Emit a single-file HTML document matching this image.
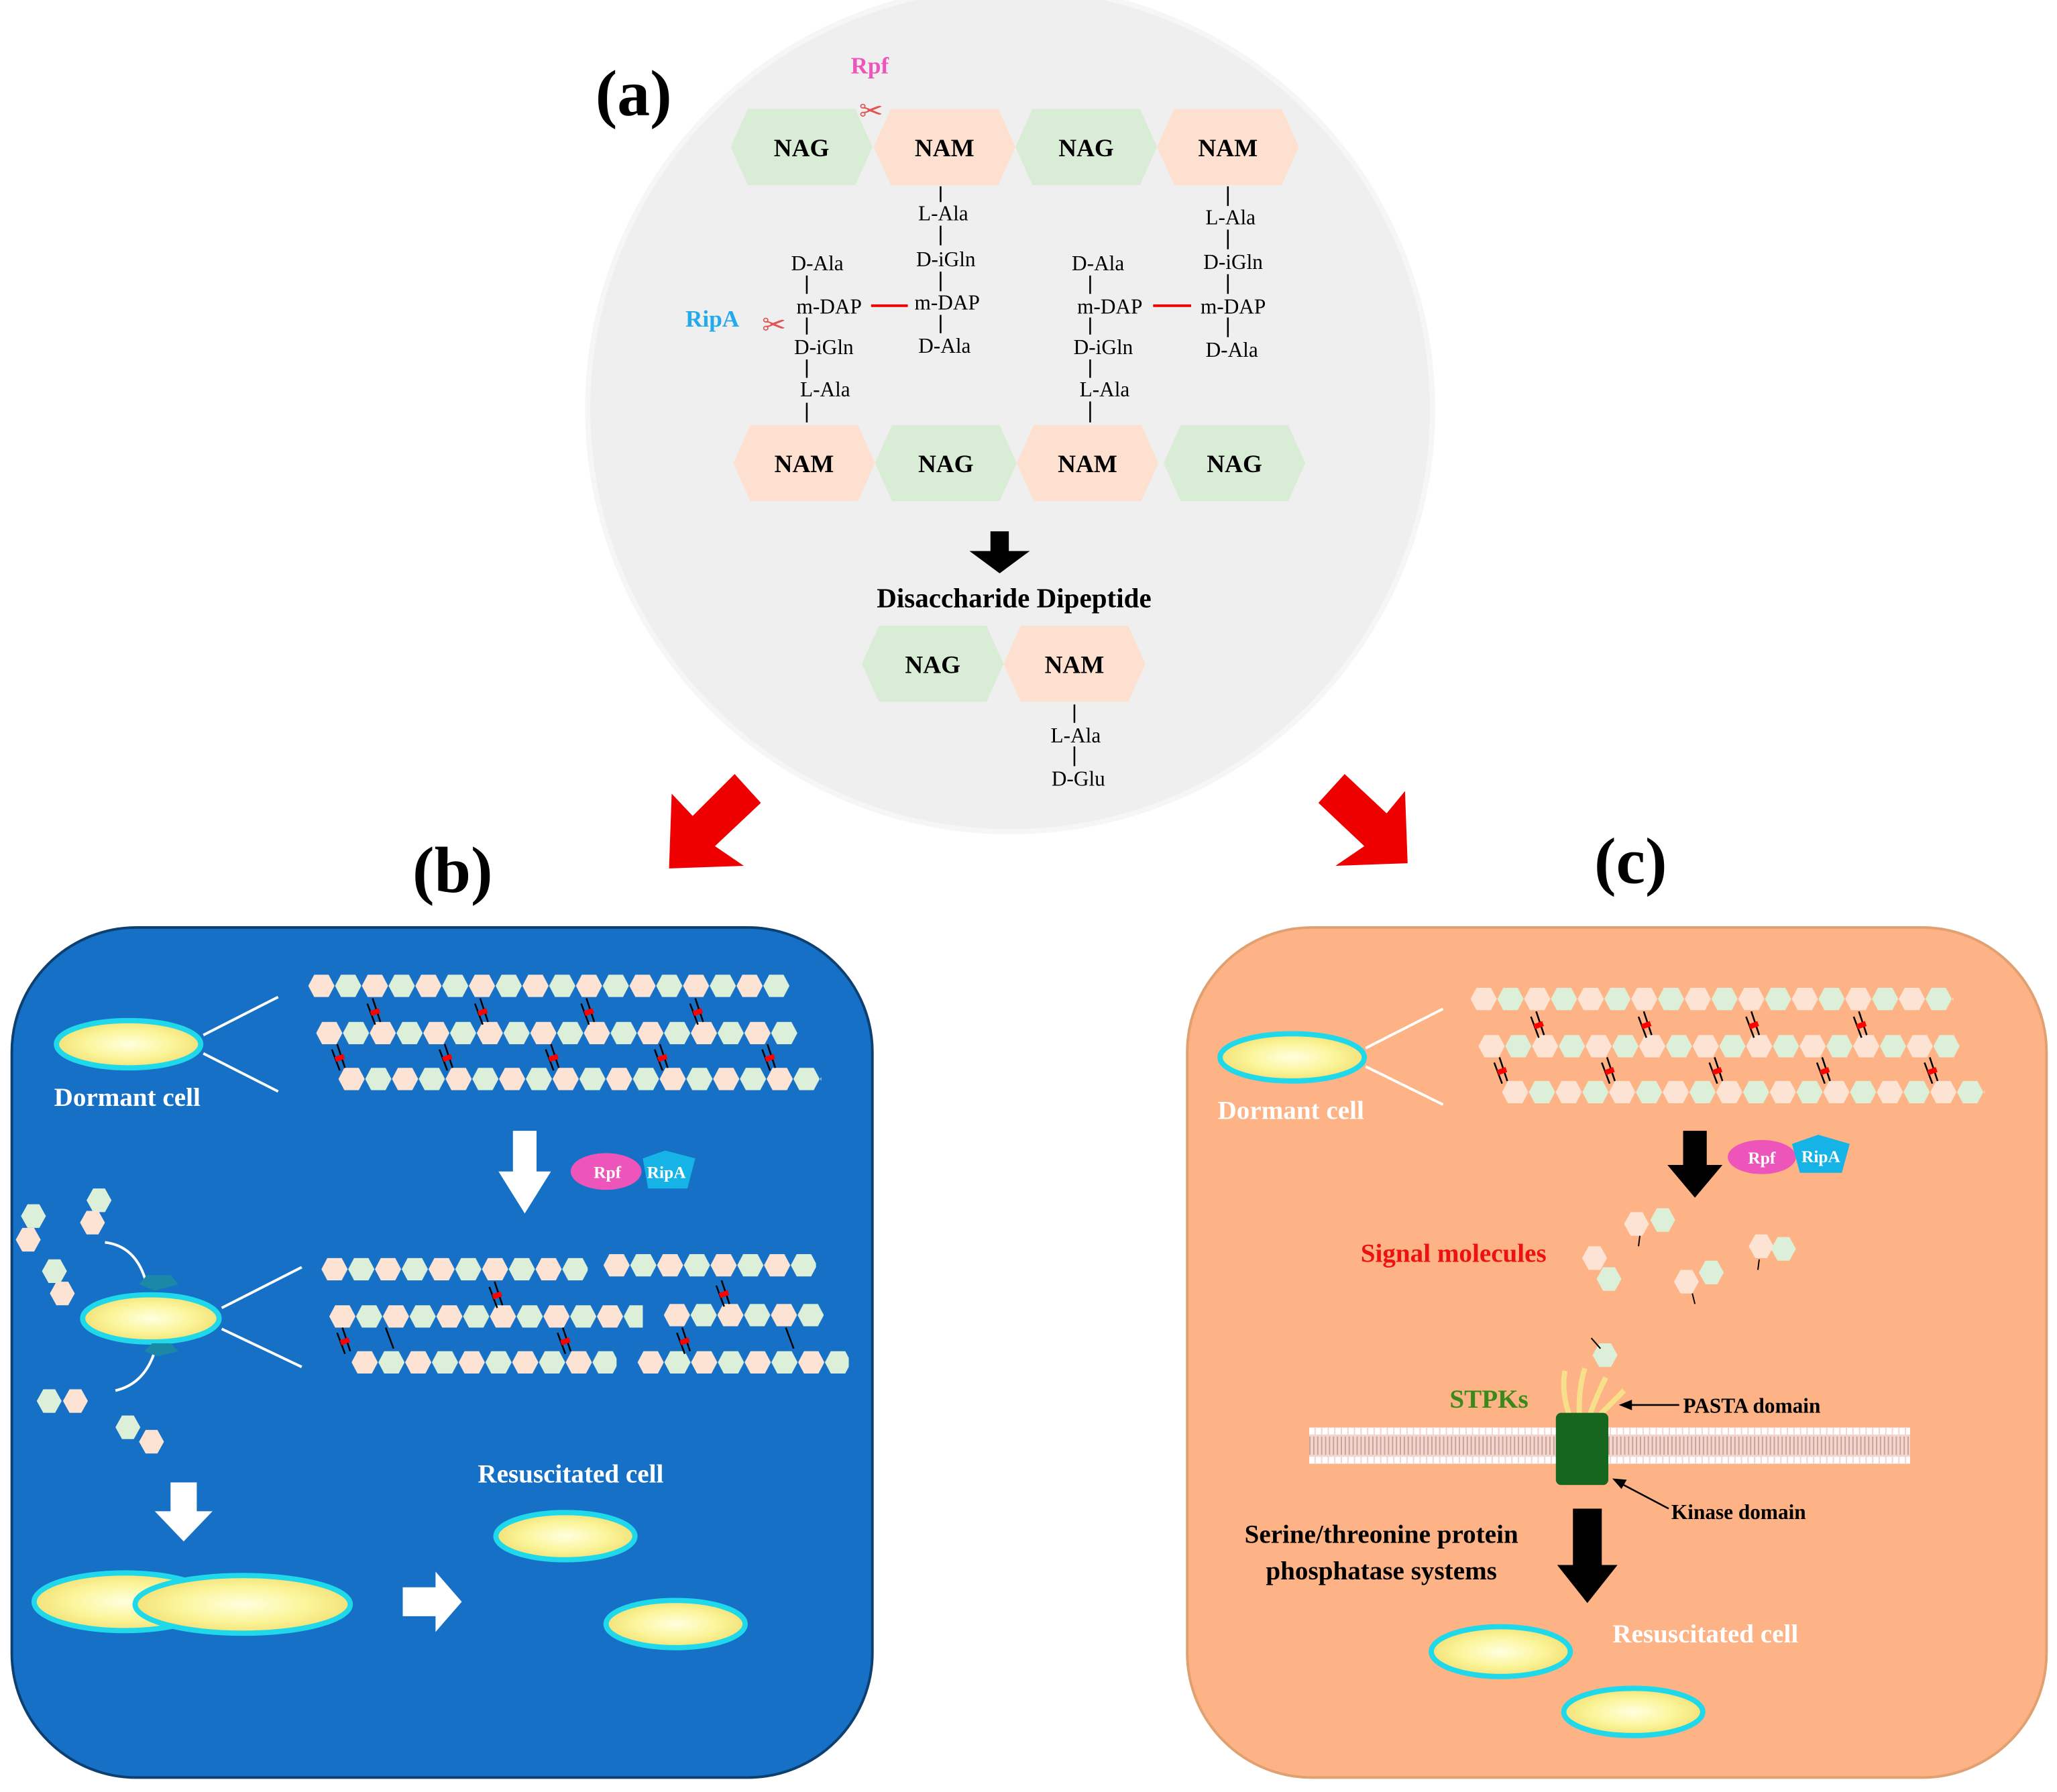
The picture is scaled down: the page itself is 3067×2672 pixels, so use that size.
<!DOCTYPE html>
<html><head><meta charset="utf-8"><style>
html,body{margin:0;padding:0;background:#fff;}
svg{display:block;}
text{font-family:"Liberation Serif",serif;}
</style></head><body>
<svg width="3067" height="2672" viewBox="0 0 1568 1366" xmlns="http://www.w3.org/2000/svg">
<defs>
<radialGradient id="cg" cx="50%" cy="50%" r="50%">
<stop offset="0" stop-color="#ffffe0"/><stop offset="0.6" stop-color="#fbf59a"/><stop offset="1" stop-color="#f3e27a"/>
</radialGradient>
<pattern id="ch" x="0" y="0" width="40.8" height="17" patternUnits="userSpaceOnUse">
<polygon points="0,8.5 4.5,0 15.5,0 20,8.5 15.5,17 4.5,17" fill="#fde3d3"/>
<polygon points="20.4,8.5 24.9,0 35.9,0 40.4,8.5 35.9,17 24.9,17" fill="#dcefd8"/>
</pattern>
<polygon id="hg" points="-54,0 -41,-29 41,-29 54,0 41,29 -41,29" fill="#d9ecd5"/>
<polygon id="hp" points="-54,0 -41,-29 41,-29 54,0 41,29 -41,29" fill="#fde0cf"/>
<g id="xl"><line x1="-3" y1="-9" x2="3" y2="9" stroke="#000" stroke-width="1.3"/><line x1="-7" y1="-5" x2="-1" y2="11" stroke="#000" stroke-width="1.3"/><rect x="-5" y="-1" width="7" height="4" fill="#f00" transform="rotate(-20)"/></g>
</defs>

<!-- (a) -->
<circle cx="770" cy="312" r="322" fill="#efefef" stroke="#f6f6f6" stroke-width="4"/>
<text x="483" y="88" font-size="50" font-weight="bold" text-anchor="middle">(a)</text>
<text x="663" y="56" font-size="18" font-weight="bold" fill="#ee55bb" text-anchor="middle">Rpf</text>
<text x="664" y="92" font-size="22" fill="#e05555" text-anchor="middle">✂</text>
<g font-size="19" font-weight="bold" text-anchor="middle">
<use href="#hg" x="611" y="112"/><text x="611" y="119">NAG</text>
<use href="#hp" x="720" y="112"/><text x="720" y="119">NAM</text>
<use href="#hg" x="828" y="112"/><text x="828" y="119">NAG</text>
<use href="#hp" x="936" y="112"/><text x="936" y="119">NAM</text>
<use href="#hp" x="613" y="353"/><text x="613" y="360">NAM</text>
<use href="#hg" x="721" y="353"/><text x="721" y="360">NAG</text>
<use href="#hp" x="829" y="353"/><text x="829" y="360">NAM</text>
<use href="#hg" x="941" y="353"/><text x="941" y="360">NAG</text>
<use href="#hg" x="711" y="506"/><text x="711" y="513">NAG</text>
<use href="#hp" x="819" y="506"/><text x="819" y="513">NAM</text>
</g>
<g font-size="16" text-anchor="middle" stroke="#000" stroke-width="1.3">
<line x1="717" y1="142" x2="717" y2="154"/><line x1="717" y1="172" x2="717" y2="187"/><line x1="717" y1="207" x2="717" y2="222"/><line x1="717" y1="240" x2="717" y2="254"/>
<line x1="615" y1="210" x2="615" y2="224"/><line x1="615" y1="242" x2="615" y2="255"/><line x1="615" y1="274" x2="615" y2="288"/><line x1="615" y1="307" x2="615" y2="322"/>
<line x1="831" y1="210" x2="831" y2="224"/><line x1="831" y1="242" x2="831" y2="255"/><line x1="831" y1="274" x2="831" y2="288"/><line x1="831" y1="306" x2="831" y2="322"/>
<line x1="936" y1="142" x2="936" y2="157"/><line x1="936" y1="175" x2="936" y2="190"/><line x1="936" y1="209" x2="936" y2="224"/><line x1="936" y1="242" x2="936" y2="257"/>
<line x1="819" y1="537" x2="819" y2="551"/><line x1="819" y1="569" x2="819" y2="584"/>
</g>
<line x1="664" y1="233" x2="692" y2="233" stroke="#e00" stroke-width="2"/>
<line x1="879" y1="233" x2="908" y2="233" stroke="#e00" stroke-width="2"/>
<g font-size="16" text-anchor="middle">
<text x="719" y="168">L-Ala</text><text x="721" y="203">D-iGln</text><text x="722" y="236">m-DAP</text><text x="720" y="269">D-Ala</text>
<text x="623" y="206">D-Ala</text><text x="632" y="239">m-DAP</text><text x="628" y="270">D-iGln</text><text x="629" y="302">L-Ala</text>
<text x="837" y="206">D-Ala</text><text x="846" y="239">m-DAP</text><text x="841" y="270">D-iGln</text><text x="842" y="302">L-Ala</text>
<text x="938" y="171">L-Ala</text><text x="940" y="205">D-iGln</text><text x="940" y="239">m-DAP</text><text x="939" y="272">D-Ala</text>
<text x="820" y="566">L-Ala</text><text x="822" y="599">D-Glu</text>
</g>
<text x="543" y="249" font-size="18" font-weight="bold" fill="#22aaee" text-anchor="middle">RipA</text>
<text x="590" y="255" font-size="22" fill="#e05555" text-anchor="middle">✂</text>
<polygon points="755,405 769,405 769,420 785,420 762,437 739,420 755,420" fill="#000"/>
<text x="773" y="463" font-size="21" font-weight="bold" text-anchor="middle">Disaccharide Dipeptide</text>

<!-- red arrows -->
<polygon points="560,590 580,612 545,645 567,660 510,662 512,605 528,622" fill="#ee0000"/>
<polygon points="1025,590 1005,612 1040,645 1018,660 1073,658 1071,603 1057,620" fill="#ee0000"/>
<text x="345" y="680" font-size="50" font-weight="bold" text-anchor="middle">(b)</text>
<text x="1243" y="673" font-size="50" font-weight="bold" text-anchor="middle">(c)</text>

<!-- (b) panel -->
<rect x="9" y="707" width="656" height="648" rx="95" fill="#1570c6" stroke="#0d3f70" stroke-width="2"/>
<ellipse cx="98" cy="796" rx="55" ry="18" fill="url(#cg)" stroke="#1fd8ea" stroke-width="4"/>
<line x1="155" y1="789" x2="212" y2="760" stroke="#fff" stroke-width="2"/>
<line x1="155" y1="803" x2="212" y2="832" stroke="#fff" stroke-width="2"/>
<text x="97" y="843" font-size="20" font-weight="bold" fill="#fff" text-anchor="middle">Dormant cell</text>
<g transform="translate(235,743)"><rect width="367" height="17" fill="url(#ch)"/></g>
<g transform="translate(241,779)"><rect width="367" height="17" fill="url(#ch)"/></g>
<g transform="translate(258,814)"><rect width="368" height="17" fill="url(#ch)"/></g>
<use href="#xl" x="287" y="770"/><use href="#xl" x="369" y="770"/><use href="#xl" x="450" y="770"/><use href="#xl" x="533" y="770"/>
<use href="#xl" x="260" y="805"/><use href="#xl" x="342" y="805"/><use href="#xl" x="423" y="805"/><use href="#xl" x="506" y="805"/><use href="#xl" x="588" y="805"/>
<polygon points="391,862 409,862 409,893 420,893 400,925 380,893 391,893" fill="#fff"/>
<ellipse cx="462" cy="893" rx="27" ry="14" fill="#ee55bb"/>
<polygon points="490,883 507,877 530,883 524,906 494,906" fill="#16b4e6"/>
<text x="463" y="898" font-size="13" font-weight="bold" fill="#fff" text-anchor="middle">Rpf</text>
<text x="508" y="898" font-size="13" font-weight="bold" fill="#fff" text-anchor="middle">RipA</text>
<g transform="translate(245,959)"><rect width="203" height="17" fill="url(#ch)"/></g>
<g transform="translate(460,956)"><rect width="162" height="17" fill="url(#ch)"/></g>
<g transform="translate(251,995)"><rect width="239" height="17" fill="url(#ch)"/></g>
<g transform="translate(506,994)"><rect width="122" height="17" fill="url(#ch)"/></g>
<g transform="translate(268,1030)"><rect width="202" height="17" fill="url(#ch)"/></g>
<g transform="translate(486,1030)"><rect width="161" height="17" fill="url(#ch)"/></g>
<use href="#xl" x="380" y="986"/><use href="#xl" x="553" y="985"/>
<use href="#xl" x="264" y="1021"/><use href="#xl" x="432" y="1021"/><use href="#xl" x="523" y="1021"/><line x1="599" y1="1012" x2="605" y2="1028" stroke="#000" stroke-width="1.3"/><line x1="294" y1="1012" x2="300" y2="1028" stroke="#000" stroke-width="1.3"/>
<ellipse cx="115" cy="1005" rx="52" ry="18" fill="url(#cg)" stroke="#1fd8ea" stroke-width="4"/>
<line x1="169" y1="997" x2="230" y2="966" stroke="#fff" stroke-width="2"/>
<line x1="169" y1="1013" x2="230" y2="1042" stroke="#fff" stroke-width="2"/>
<path d="M80,947 Q105,950 112,980" fill="none" stroke="#fff" stroke-width="2"/>
<path d="M88,1060 Q110,1055 118,1030" fill="none" stroke="#fff" stroke-width="2"/>
<g>
<polygon points="16,927 21,918 30,918 35,927 30,936 21,936" fill="#dcefd8"/>
<polygon points="12,945 17,936 26,936 31,945 26,954 17,954" fill="#fde3d3"/>
<polygon points="66,915 71,906 80,906 85,915 80,924 71,924" fill="#dcefd8"/>
<polygon points="61,932 66,923 75,923 80,932 75,941 66,941" fill="#fde3d3"/>
<polygon points="32,969 37,960 46,960 51,969 46,978 37,978" fill="#dcefd8"/>
<polygon points="38,986 43,977 52,977 57,986 52,995 43,995" fill="#fde3d3"/>
<polygon points="28,1068 33,1059 42,1059 47,1068 42,1077 33,1077" fill="#dcefd8"/>
<polygon points="48,1068 53,1059 62,1059 67,1068 62,1077 53,1077" fill="#fde3d3"/>
<polygon points="88,1088 93,1079 102,1079 107,1088 102,1097 93,1097" fill="#dcefd8"/>
<polygon points="106,1099 111,1090 120,1090 125,1099 120,1108 111,1108" fill="#fde3d3"/>
<polygon points="106,979 112,972 130,972 136,979 118,984" fill="#1b88a8"/>
<polygon points="110,1030 116,1024 130,1024 136,1030 120,1034" fill="#1b88a8"/>
</g>
<polygon points="130,1130 150,1130 150,1152 162,1152 140,1175 118,1152 130,1152" fill="#fff"/>
<ellipse cx="95" cy="1221" rx="69" ry="22" fill="url(#cg)" stroke="#1fd8ea" stroke-width="4"/>
<ellipse cx="185" cy="1223" rx="82" ry="22" fill="url(#cg)" stroke="#1fd8ea" stroke-width="4"/>
<polygon points="307,1210 332,1210 332,1198 352,1221 332,1244 332,1232 307,1232" fill="#fff"/>
<text x="435" y="1130" font-size="20" font-weight="bold" fill="#fff" text-anchor="middle">Resuscitated cell</text>
<ellipse cx="431" cy="1171" rx="53" ry="18" fill="url(#cg)" stroke="#1fd8ea" stroke-width="4"/>
<ellipse cx="515" cy="1238" rx="53" ry="18" fill="url(#cg)" stroke="#1fd8ea" stroke-width="4"/>

<!-- (c) panel -->
<rect x="905" y="707" width="655" height="648" rx="95" fill="#fdb385" stroke="#e0a070" stroke-width="2"/>
<ellipse cx="985" cy="806" rx="55" ry="18" fill="url(#cg)" stroke="#1fd8ea" stroke-width="4"/>
<line x1="1041" y1="799" x2="1100" y2="769" stroke="#fff" stroke-width="2"/>
<line x1="1041" y1="813" x2="1100" y2="842" stroke="#fff" stroke-width="2"/>
<text x="984" y="853" font-size="20" font-weight="bold" fill="#fff" text-anchor="middle">Dormant cell</text>
<g transform="translate(1121,753)"><rect width="368" height="17" fill="url(#ch)"/></g>
<g transform="translate(1127,789)"><rect width="367" height="17" fill="url(#ch)"/></g>
<g transform="translate(1145,824)"><rect width="368" height="17" fill="url(#ch)"/></g>
<use href="#xl" x="1174" y="780"/><use href="#xl" x="1256" y="780"/><use href="#xl" x="1338" y="780"/><use href="#xl" x="1420" y="780"/>
<use href="#xl" x="1146" y="815"/><use href="#xl" x="1228" y="815"/><use href="#xl" x="1310" y="815"/><use href="#xl" x="1392" y="815"/><use href="#xl" x="1474" y="815"/>
<polygon points="1283,862 1301,862 1301,888 1313,888 1292,913 1271,888 1283,888" fill="#000"/>
<ellipse cx="1343" cy="882" rx="26" ry="13" fill="#ee55bb"/>
<polygon points="1366,872 1386,865 1410,872 1404,894 1372,894" fill="#16b4e6"/>
<text x="1343" y="887" font-size="13" font-weight="bold" fill="#fff" text-anchor="middle">Rpf</text>
<text x="1388" y="886" font-size="13" font-weight="bold" fill="#fff" text-anchor="middle">RipA</text>
<text x="1108" y="962" font-size="20" font-weight="bold" fill="#ee1111" text-anchor="middle">Signal molecules</text>
<g>
<polygon points="1238,933 1243,924 1252,924 1257,933 1252,942 1243,942" fill="#fde3d3"/>
<polygon points="1258,930 1263,921 1272,921 1277,930 1272,939 1263,939" fill="#dcefd8"/>
<line x1="1250" y1="942" x2="1249" y2="950" stroke="#000"/>
<polygon points="1206,959 1211,950 1220,950 1225,959 1220,968 1211,968" fill="#fde3d3"/>
<polygon points="1217,975 1222,966 1231,966 1236,975 1231,984 1222,984" fill="#dcefd8"/>
<polygon points="1333,950 1338,941 1347,941 1352,950 1347,959 1338,959" fill="#fde3d3"/>
<polygon points="1350,952 1355,943 1364,943 1369,952 1364,961 1355,961" fill="#dcefd8"/>
<line x1="1341" y1="960" x2="1340" y2="968" stroke="#000"/>
<polygon points="1276,977 1281,968 1290,968 1295,977 1290,986 1281,986" fill="#fde3d3"/>
<polygon points="1295,970 1300,961 1309,961 1314,970 1309,979 1300,979" fill="#dcefd8"/>
<line x1="1290" y1="986" x2="1292" y2="994" stroke="#000"/>
<polygon points="1214,1033 1219,1024 1228,1024 1233,1033 1228,1042 1219,1042" fill="#dcefd8"/>
<line x1="1213" y1="1020" x2="1220" y2="1028" stroke="#000"/>
</g>
<rect x="998" y="1088" width="458" height="28" fill="#f2d6cf"/>
<line x1="998" y1="1091" x2="1456" y2="1091" stroke="#fff" stroke-width="5" stroke-dasharray="4,1"/>
<line x1="998" y1="1113" x2="1456" y2="1113" stroke="#fff" stroke-width="5" stroke-dasharray="4,1"/>
<line x1="998" y1="1102" x2="1456" y2="1102" stroke="#b08070" stroke-width="14" stroke-dasharray="1,2" opacity="0.6"/>
<path d="M1196,1078 Q1190,1060 1193,1045 M1204,1078 Q1203,1060 1208,1043 M1212,1078 Q1218,1062 1224,1050 M1220,1078 Q1230,1068 1238,1060" fill="none" stroke="#f8e08a" stroke-width="4"/>
<rect x="1186" y="1077" width="40" height="55" rx="4" fill="#17661f"/>
<text x="1135" y="1073" font-size="20" font-weight="bold" fill="#3a8a1a" text-anchor="middle">STPKs</text>
<line x1="1280" y1="1071" x2="1240" y2="1071" stroke="#000" stroke-width="1.3"/>
<polygon points="1234,1071 1244,1067 1244,1075" fill="#000"/>
<text x="1283" y="1077" font-size="16" font-weight="bold">PASTA domain</text>
<line x1="1272" y1="1150" x2="1234" y2="1130" stroke="#000" stroke-width="1.3"/>
<polygon points="1229,1127 1240,1128 1236,1135" fill="#000"/>
<text x="1274" y="1158" font-size="16" font-weight="bold">Kinase domain</text>
<text x="1053" y="1176" font-size="20" font-weight="bold" text-anchor="middle">Serine/threonine protein</text>
<text x="1053" y="1204" font-size="20" font-weight="bold" text-anchor="middle">phosphatase systems</text>
<polygon points="1199,1150 1221,1150 1221,1193 1233,1193 1210,1222 1187,1193 1199,1193" fill="#000"/>
<text x="1300" y="1252" font-size="20" font-weight="bold" fill="#fff" text-anchor="middle">Resuscitated cell</text>
<ellipse cx="1144" cy="1259" rx="53" ry="19" fill="url(#cg)" stroke="#1fd8ea" stroke-width="4"/>
<ellipse cx="1245" cy="1305" rx="53" ry="18" fill="url(#cg)" stroke="#1fd8ea" stroke-width="4"/>
</svg>
</body></html>
